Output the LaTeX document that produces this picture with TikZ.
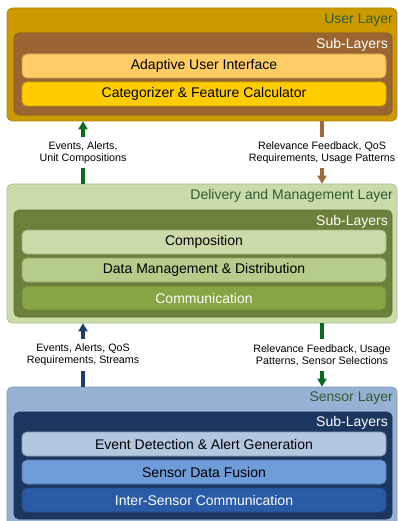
\documentclass[tikz,border=0pt]{standalone}
\usepackage{fontspec}
\setmainfont{Liberation Sans}
\usetikzlibrary{arrows.meta}

% layer palette
\definecolor{userfill}{HTML}{CC9900}
\definecolor{userdraw}{HTML}{B38600}
\definecolor{userinner}{HTML}{996633}
\definecolor{adaptfill}{HTML}{FFCC66}
\definecolor{catfill}{HTML}{FFCC00}
\definecolor{delfill}{HTML}{CADCAA}
\definecolor{deldraw}{HTML}{A9BB8C}
\definecolor{delinner}{HTML}{6B803A}
\definecolor{compfill}{HTML}{CADBA9}
\definecolor{datafill}{HTML}{B6CC8B}
\definecolor{commfill}{HTML}{87A544}
\definecolor{senfill}{HTML}{95B1D4}
\definecolor{sendraw}{HTML}{8499B5}
\definecolor{seninner}{HTML}{1B365F}
\definecolor{eventfill}{HTML}{B3C7E1}
\definecolor{fusionfill}{HTML}{6F9DDA}
\definecolor{interfill}{HTML}{2A5BA6}
\definecolor{titlegreen}{HTML}{2F5A30}
\definecolor{arrgreen}{HTML}{0B6B1C}
\definecolor{arrbrown}{HTML}{A0693A}
\definecolor{arrnavy}{HTML}{1F3C6C}

\tikzset{
  x=1pt, y=1pt,
  box/.style={rectangle, rounded corners=5pt, line width=0.6pt, inner sep=0pt},
  outerlayer/.style={box, minimum width=390pt},
  innerlayer/.style={box, minimum width=378pt, minimum height=82pt},
  sublayer/.style={box, minimum width=364pt, minimum height=24pt,
    font=\fontsize{14}{16}\selectfont},
  layertitle/.style={anchor=east, text=titlegreen, inner sep=0pt,
    font=\fontsize{14}{16}\selectfont},
  subtitle/.style={anchor=east, text=white, inner sep=0pt,
    font=\fontsize{14}{16}\selectfont},
  flow/.style={line width=3.5pt, -{Triangle[width=9pt,length=8pt]}},
  flowlabel/.style={fill=white, align=center, inner xsep=2pt, inner ysep=5pt,
    font=\fontsize{10.7}{12}\selectfont}
}

\begin{document}
\begin{tikzpicture}
\useasboundingbox (0,0) rectangle (398,-521);

% ---- User layer ----
\node[outerlayer, minimum height=113pt, fill=userfill, draw=userdraw] (user) at (202,-64.5) {};
\node[layertitle] (usertitle) at (393,-20) {User Layer};
\node[innerlayer, fill=userinner, draw=userinner!85!black] (usersub) at (203,-74) {};
\node[subtitle] (usersubtitle) at (388,-45) {Sub-Layers};
\node[sublayer, fill=adaptfill, draw=adaptfill!80!black] (aui) at (204,-66) {Adaptive User Interface};
\node[sublayer, fill=catfill, draw=catfill!80!black] (cfc) at (204,-94) {Categorizer \& Feature Calculator};

% ---- Delivery and management layer ----
\node[outerlayer, minimum height=139pt, fill=delfill, draw=deldraw] (deliv) at (202,-253.5) {};
\node[layertitle] (delivtitle) at (393,-196) {Delivery and Management Layer};
\node[innerlayer, minimum height=107pt, fill=delinner, draw=delinner!85!black] (delivsub) at (203,-263.5) {};
\node[subtitle] (delivsubtitle) at (388,-222) {Sub-Layers};
\node[sublayer, fill=compfill, draw=compfill!80!black] (comp) at (204,-242) {Composition};
\node[sublayer, fill=datafill, draw=datafill!80!black] (dmd) at (204,-270) {Data Management \& Distribution};
\node[sublayer, fill=commfill, draw=commfill!80!black, text=white] (comm) at (204,-298) {Communication};

% ---- Sensor layer ----
\node[outerlayer, minimum height=140pt, fill=senfill, draw=sendraw] (sensor) at (202,-457) {};
\node[layertitle] (sensortitle) at (393,-398) {Sensor Layer};
\node[innerlayer, minimum height=107pt, fill=seninner, draw=seninner!85!black] (sensorsub) at (203,-465.5) {};
\node[subtitle] (sensorsubtitle) at (388,-423) {Sub-Layers};
\node[sublayer, fill=eventfill, draw=eventfill!80!black] (edag) at (204,-444) {Event Detection \& Alert Generation};
\node[sublayer, fill=fusionfill, draw=fusionfill!80!black] (sdf) at (204,-472) {Sensor Data Fusion};
\node[sublayer, fill=interfill, draw=interfill!80!black, text=white] (isc) at (204,-500) {Inter-Sensor Communication};

% ---- flows between layers ----
\coordinate (lx) at (83,0);
\coordinate (rx) at (322,0);

\draw[flow, arrgreen] (lx |- deliv.north) -- (lx |- user.south)
  node[midway, flowlabel, text=black] (up1) {Events, Alerts,\\Unit Compositions};
\draw[flow, arrbrown] (rx |- user.south) -- (rx |- deliv.north)
  node[midway, flowlabel, text=black] (down1) {Relevance Feedback, QoS\\Requirements, Usage Patterns};

\draw[flow, arrnavy] (lx |- sensor.north) -- (lx |- deliv.south)
  node[midway, flowlabel, text=black] (up2) {Events, Alerts, QoS\\Requirements, Streams};
\draw[flow, arrgreen] (rx |- deliv.south) -- (rx |- sensor.north)
  node[midway, flowlabel, text=black] (down2) {Relevance Feedback, Usage\\Patterns, Sensor Selections};
\end{tikzpicture}
\end{document}
